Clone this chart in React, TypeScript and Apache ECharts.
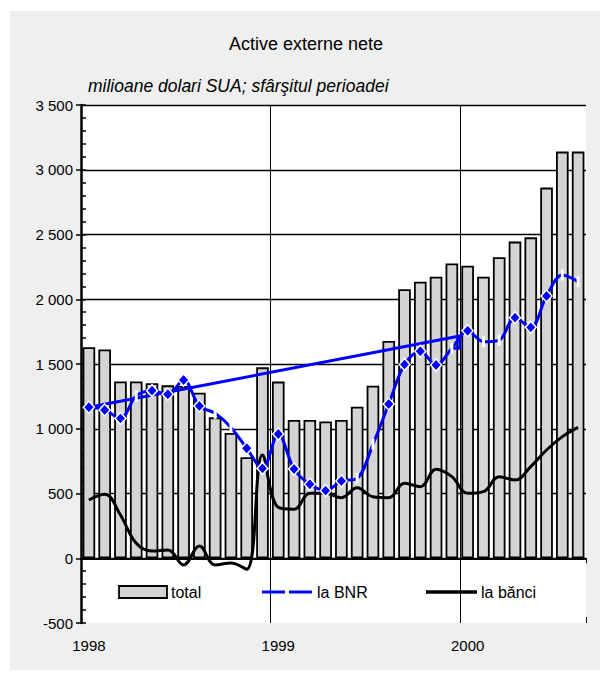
import React, { useEffect, useRef } from "react";
import * as echarts from "echarts";

// ---- data ----
const months = [
  "1998-01", "1998-02", "1998-03", "1998-04", "1998-05", "1998-06", "1998-07", "1998-08",
  "1998-09", "1998-10", "1998-11", "1998-12", "1999-01", "1999-02", "1999-03", "1999-04",
  "1999-05", "1999-06", "1999-07", "1999-08", "1999-09", "1999-10", "1999-11", "1999-12",
  "2000-01", "2000-02", "2000-03", "2000-04", "2000-05", "2000-06", "2000-07", "2000-08",
];
const total = [
  1630, 1612, 1365, 1365, 1352, 1335, 1330, 1278, 1088, 968, 780, 1474, 1364, 1068, 1068, 1056,
  1068, 1170, 1333, 1678, 2077, 2136, 2174, 2277, 2259, 2174, 2324, 2445, 2478, 2862, 3140, 3140,
];
const laBNR = [
  1166, 1145, 1080, 1253, 1294, 1266, 1376, 1176, 1119, 1010, 849, 694, 959, 689, 571, 522,
  596, 617, 880, 1191, 1497, 1598, 1492, 1621, 1757, 1672, 1685, 1858, 1783, 2025, 2187, 2136,
];
// d = diamond marker, t = white tick marker
const bnrMarkers = "dddtddddttdddddddttddddtdttdddtt";
const laBanci = [
  450, 494, 334, 115, 56, 64, -52, 95, -52, -37, -85, 797, 393, 378, 501, 501,
  468, 545, 475, 468, 579, 553, 687, 630, 501, 514, 630, 604, 707, 836, 939, 1011,
];
// straight blue segment (x in category units from left edge)
const bnrTrend = [
  [0.5, 1166],
  [24, 1716],
  [24, 1621],
  [23.5, 1621],
];
const yMin = -500;
const yMax = 3500;
const yStep = 500;
const monthsPerYear = 12;

const OX = 10;
const OY = 11;
const FONT = "'Liberation Sans', Arial, Helvetica, sans-serif";

function fmt(v: number) {
  return String(v).replace(/\B(?=(\d{3})+(?!\d))/g, " ");
}

export default function App() {
  const ref = useRef<HTMLDivElement>(null);
  useEffect(() => {
    if (!ref.current) return;
    const chart = echarts.init(ref.current, null, { renderer: "svg" });
    const nTicks = (yMax - yMin) / yStep + 1;
    const splitColors = Array.from({ length: nTicks }, (_, i) => (i === 0 ? "rgba(0,0,0,0)" : "#000"));
    // vertical year lines: ticks of value axis 0,12,24,32 -> hide first & last
    const nYearTicks = Math.floor(months.length / monthsPerYear) + 2;
    const yearColors = Array.from({ length: nYearTicks }, (_, i) =>
      i === 0 || i === nYearTicks - 1 ? "rgba(0,0,0,0)" : "#000"
    );
    const legY = 592 - OY;
    chart.setOption({
      animation: false,
      backgroundColor: "#efefef",
      textStyle: { fontFamily: FONT },
      title: [
        {
          text: "Active externe nete",
          left: 306 - OX,
          top: 35 - OY,
          padding: 0,
          textAlign: "center",
          textStyle: { fontSize: 18, fontWeight: "normal", color: "#000", fontFamily: FONT },
        },
        {
          text: "milioane dolari SUA; sfârşitul perioadei",
          left: 88 - OX,
          top: 77 - OY,
          padding: 0,
          textStyle: { fontSize: 17.5, fontWeight: "normal", fontStyle: "italic", color: "#000", fontFamily: FONT },
        },
      ],
      grid: {
        left: 81 - OX,
        top: 105 - OY,
        width: 505,
        height: 518,
        show: true,
        backgroundColor: "#fff",
        borderWidth: 0,
      },
      xAxis: [
        {
          type: "category",
          data: months,
          position: "bottom",
          boundaryGap: true,
          axisLine: { show: false, onZero: false },
          axisTick: {
            show: true,
            inside: true,
            length: 6,
            interval: (i: number) => i === 12 || i === 24,
            lineStyle: { color: "#000", width: 1 },
          },
          axisLabel: {
            interval: (i: number) => i % monthsPerYear === 0,
            formatter: (v: string) => v.slice(0, 4),
            fontSize: 15,
            color: "#000",
            margin: 15,
            fontFamily: FONT,
          },
          splitLine: { show: false },
        },
        {
          type: "category",
          data: months,
          position: "bottom",
          boundaryGap: true,
          axisLine: { show: true, onZero: true, lineStyle: { color: "#000", width: 2 } },
          axisTick: {
            show: true,
            inside: false,
            length: 5,
            interval: (i: number) => i % monthsPerYear === 0,
            lineStyle: { color: "#000", width: 1 },
          },
          axisLabel: { show: false },
          splitLine: { show: false },
        },
        {
          type: "value",
          min: 0,
          max: months.length,
          interval: monthsPerYear,
          position: "top",
          axisLine: { show: false, onZero: false },
          axisTick: { show: false },
          axisLabel: { show: false },
          splitLine: { show: true, lineStyle: { color: yearColors, width: 1 } },
        },
      ],
      yAxis: [
        {
          type: "value",
          min: yMin,
          max: yMax,
          interval: yStep,
          position: "left",
          axisLine: { show: true, onZero: false, lineStyle: { color: "#000", width: 2.5 } },
          axisTick: { show: true, inside: false, length: 5, lineStyle: { color: "#000", width: 1.5 } },
          axisLabel: {
            formatter: (v: number) => fmt(v),
            fontSize: 15,
            color: "#000",
            margin: 8,
            fontFamily: FONT,
          },
          splitLine: { show: true, lineStyle: { color: splitColors, width: 1.4 } },
        },
        {
          type: "value",
          min: yMin,
          max: yMax,
          interval: yStep,
          position: "left",
          axisLine: { show: false, onZero: false },
          axisTick: { show: true, inside: true, length: 5, lineStyle: { color: "#000", width: 1.5 } },
          minorTick: { show: true, splitNumber: 5, length: 5, lineStyle: { color: "#000", width: 1.5 } },
          axisLabel: { show: false },
          splitLine: { show: false },
        },
      ],
      series: [
        {
          name: "total",
          type: "bar",
          xAxisIndex: 0,
          yAxisIndex: 0,
          data: total,
          barWidth: "80%",
          itemStyle: { color: "#d4d4d4", borderColor: "#000", borderWidth: 1.8 },
          z: 2,
        },
        {
          name: "trend",
          type: "line",
          xAxisIndex: 2,
          yAxisIndex: 0,
          data: bnrTrend,
          symbol: "none",
          lineStyle: { color: "#0000ff", width: 3 },
          z: 3,
        },
        {
          name: "la bănci",
          type: "line",
          xAxisIndex: 0,
          yAxisIndex: 0,
          data: laBanci,
          smooth: 0.4,
          symbol: "none",
          lineStyle: { color: "#000", width: 3 },
          z: 4,
        },
        {
          name: "la BNR",
          type: "line",
          xAxisIndex: 0,
          yAxisIndex: 0,
          smooth: 0.35,
          data: laBNR.map((v, i) =>
            bnrMarkers[i] === "d"
              ? {
                  value: v,
                  symbol: "diamond",
                  symbolSize: [11, 12],
                  itemStyle: { color: "#0000ff", borderColor: "#fff", borderWidth: 1.5 },
                }
              : {
                  value: v,
                  symbol: "rect",
                  symbolSize: [3, 11],
                  itemStyle: { color: "#fff", borderWidth: 0 },
                }
          ),
          showAllSymbol: true,
          lineStyle: { color: "#0000ff", width: 3 },
          itemStyle: { color: "#0000ff" },
          z: 5,
        },
      ],
      graphic: [
        {
          type: "rect",
          shape: { x: 119 - OX, y: 586 - OY, width: 48, height: 12 },
          style: { fill: "#d4d4d4", stroke: "#000", lineWidth: 1.8 },
          z: 10,
        },
        {
          type: "text",
          x: 171 - OX,
          y: legY,
          style: { text: "total", fill: "#000", fontSize: 16, fontFamily: FONT, verticalAlign: "middle", align: "left" },
          z: 10,
        },
        {
          type: "line",
          shape: { x1: 262 - OX, y1: legY, x2: 285 - OX, y2: legY },
          style: { stroke: "#0000ff", lineWidth: 3 },
          z: 10,
        },
        {
          type: "line",
          shape: { x1: 289 - OX, y1: legY, x2: 312 - OX, y2: legY },
          style: { stroke: "#0000ff", lineWidth: 3 },
          z: 10,
        },
        {
          type: "text",
          x: 317 - OX,
          y: legY,
          style: { text: "la BNR", fill: "#000", fontSize: 16, fontFamily: FONT, verticalAlign: "middle", align: "left" },
          z: 10,
        },
        {
          type: "line",
          shape: { x1: 426 - OX, y1: legY, x2: 477 - OX, y2: legY },
          style: { stroke: "#000", lineWidth: 3.5 },
          z: 10,
        },
        {
          type: "text",
          x: 481 - OX,
          y: legY,
          style: { text: "la bănci", fill: "#000", fontSize: 16, fontFamily: FONT, verticalAlign: "middle", align: "left" },
          z: 10,
        },
      ],
    });
    return () => chart.dispose();
  }, []);
  return (
    <div
      ref={ref}
      style={{ position: "absolute", left: OX, top: OY, width: 600 - OX, height: 670 - OY }}
    />
  );
}
